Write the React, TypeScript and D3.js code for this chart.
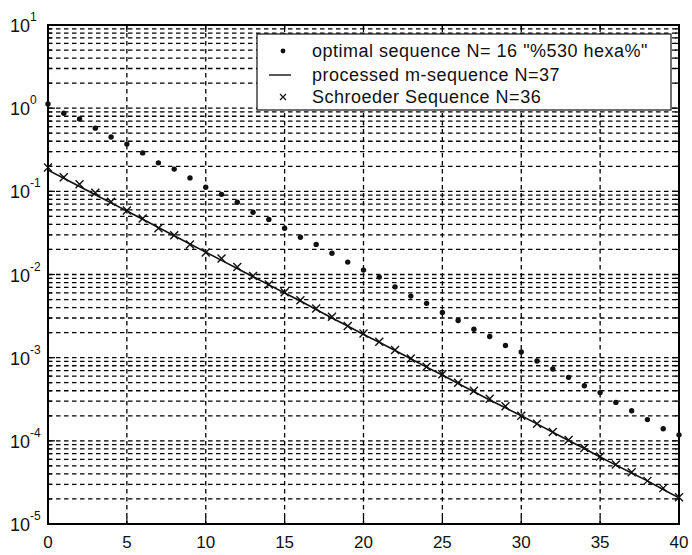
import { useEffect, useRef } from "react";
import * as d3 from "d3";

// x positions (sample index)
const xValues: number[] = d3.range(0, 41);

// optimal sequence N=16 "%530 hexa%" (dots)
const optimalValues: number[] = [
  1.12, 0.87, 0.74, 0.575, 0.45, 0.37, 0.29, 0.22, 0.185, 0.145,
  0.112, 0.092, 0.074, 0.056, 0.046, 0.036, 0.028, 0.023, 0.018, 0.0141,
  0.0113, 0.0093, 0.0071, 0.0055, 0.0045, 0.0035, 0.0028, 0.0022, 0.0018, 0.0014,
  0.00117, 0.00091, 0.00073, 0.00058, 0.00046, 0.00038, 0.00029, 0.00023, 0.00018, 0.00014,
  0.000118,
];

// processed m-sequence N=37 (solid line)
const mSeqValues: number[] = [
  0.18, 0.1435, 0.1143, 0.0911, 0.0726, 0.0579, 0.0461, 0.0368, 0.0293, 0.0233,
  0.0186, 0.0148, 0.0118, 0.0094, 0.0075, 0.006, 0.0048, 0.0038, 0.003, 0.0024,
  0.0019, 0.00153, 0.00122, 0.00097, 0.00077, 0.00062, 0.00049, 0.00039, 0.00031, 0.00025,
  0.0002, 0.00016, 0.000127, 0.000101, 0.000081, 0.000064, 0.000051, 0.000041, 0.000033, 0.000026,
  0.0000206,
];

// Schroeder sequence N=36 (x markers)
const schroederValues: number[] = [
  0.194, 0.148, 0.122, 0.096, 0.075, 0.059, 0.047, 0.036, 0.0296, 0.023,
  0.0184, 0.0156, 0.0123, 0.0096, 0.0076, 0.0061, 0.0049, 0.0039, 0.0031, 0.0024,
  0.00195, 0.00155, 0.00124, 0.00098, 0.00078, 0.00063, 0.0005, 0.0004, 0.00032, 0.00026,
  0.0002, 0.00016, 0.000128, 0.000102, 0.000082, 0.000065, 0.000052, 0.000042, 0.000033, 0.000027,
  0.000021,
];

const xTicks: number[] = [0, 5, 10, 15, 20, 25, 30, 35, 40];
const yExponents: number[] = [1, 0, -1, -2, -3, -4, -5];

const legendLabels: string[] = [
  'optimal sequence N= 16 "%530 hexa%"',
  "processed m-sequence N=37",
  "Schroeder Sequence N=36",
];

export default function App() {
  const svgRef = useRef<SVGSVGElement>(null);

  useEffect(() => {
    const svg = d3.select(svgRef.current);
    svg.selectAll("*").remove();

    const width = 692;
    const height = 555;
    const margin = { top: 25, right: 13, bottom: 31, left: 48 };
    const innerW = width - margin.left - margin.right;
    const innerH = height - margin.top - margin.bottom;
    const font = "'Liberation Sans', Arial, sans-serif";

    svg.attr("width", width).attr("height", height);
    svg.append("rect").attr("width", width).attr("height", height).attr("fill", "#fff");

    const g = svg.append("g").attr("transform", `translate(${margin.left},${margin.top})`);

    const x = d3.scaleLinear().domain([0, 40]).range([0, innerW]);
    const y = d3.scaleLog().domain([1e-5, 10]).range([innerH, 0]);

    // horizontal grid at every log tick
    const logTicks: number[] = [];
    for (let e = -5; e < 1; e++) {
      for (let m = 1; m <= 9; m++) logTicks.push(m * Math.pow(10, e));
    }
    logTicks.push(10);

    g.append("g")
      .selectAll("line")
      .data(logTicks.filter((v) => v > 1e-5 && v < 10))
      .join("line")
      .attr("x1", 0)
      .attr("x2", innerW)
      .attr("y1", (d) => y(d))
      .attr("y2", (d) => y(d))
      .attr("stroke", "#000")
      .attr("stroke-width", 1.3)
      .attr("stroke-dasharray", "4.5,3.5");

    g.append("g")
      .selectAll("line")
      .data(xTicks.filter((v) => v > 0 && v < 40))
      .join("line")
      .attr("x1", (d) => x(d))
      .attr("x2", (d) => x(d))
      .attr("y1", 0)
      .attr("y2", innerH)
      .attr("stroke", "#000")
      .attr("stroke-width", 1.3)
      .attr("stroke-dasharray", "4.5,3.5");

    // tick marks (inside, both sides)
    const ticks = g.append("g").attr("stroke", "#000").attr("stroke-width", 1.2);
    logTicks.forEach((v) => {
      const len = Math.abs(Math.log10(v) - Math.round(Math.log10(v))) < 1e-9 ? 7 : 4;
      ticks.append("line").attr("x1", 0).attr("x2", len).attr("y1", y(v)).attr("y2", y(v));
      ticks.append("line").attr("x1", innerW).attr("x2", innerW - len).attr("y1", y(v)).attr("y2", y(v));
    });
    xTicks.forEach((v) => {
      ticks.append("line").attr("x1", x(v)).attr("x2", x(v)).attr("y1", innerH).attr("y2", innerH - 7);
      ticks.append("line").attr("x1", x(v)).attr("x2", x(v)).attr("y1", 0).attr("y2", 7);
    });

    // box
    g.append("rect")
      .attr("width", innerW)
      .attr("height", innerH)
      .attr("fill", "none")
      .attr("stroke", "#000")
      .attr("stroke-width", 2);

    // x tick labels
    g.append("g")
      .selectAll("text")
      .data(xTicks)
      .join("text")
      .attr("x", (d) => x(d))
      .attr("y", innerH + 24)
      .attr("text-anchor", "middle")
      .attr("font-family", font)
      .attr("font-size", 17)
      .attr("fill", "#111")
      .text((d) => d);

    // y tick labels 10^n
    const yl = g
      .append("g")
      .selectAll("text")
      .data(yExponents)
      .join("text")
      .attr("x", -38)
      .attr("y", (d) => y(Math.pow(10, d)) + 7)
      .attr("font-family", font)
      .attr("font-size", 18)
      .attr("fill", "#111");
    yl.append("tspan").text("10");
    yl.append("tspan").attr("dy", -11).attr("font-size", 12).text((d) => d);

    // m-sequence line
    const line = d3
      .line<number>()
      .x((d, i) => x(xValues[i]))
      .y((d) => y(d));
    g.append("path")
      .datum(mSeqValues)
      .attr("fill", "none")
      .attr("stroke", "#111")
      .attr("stroke-width", 1.6)
      .attr("d", line);

    // optimal dots
    g.append("g")
      .selectAll("circle")
      .data(optimalValues)
      .join("circle")
      .attr("cx", (d, i) => x(xValues[i]))
      .attr("cy", (d) => y(d))
      .attr("r", 2.7)
      .attr("fill", "#111");

    // Schroeder x markers
    const s = 4;
    g.append("g")
      .selectAll("path")
      .data(schroederValues)
      .join("path")
      .attr("d", (d, i) => {
        const cx = x(xValues[i]);
        const cy = y(d);
        return `M${cx - s},${cy - s}L${cx + s},${cy + s}M${cx - s},${cy + s}L${cx + s},${cy - s}`;
      })
      .attr("stroke", "#111")
      .attr("stroke-width", 1.4)
      .attr("fill", "none");

    // legend
    const lg = svg.append("g").attr("transform", "translate(257,34)");
    lg.append("rect")
      .attr("width", 414)
      .attr("height", 76)
      .attr("fill", "#fff")
      .attr("stroke", "#111")
      .attr("stroke-width", 1.2);
    const rowY = [17, 41, 63];
    legendLabels.forEach((label, i) => {
      lg.append("text")
        .attr("x", 55)
        .attr("y", rowY[i] + 6)
        .attr("font-family", font)
        .attr("font-size", 18)
        .attr("letter-spacing", 0.5)
        .attr("fill", "#111")
        .text(label);
    });
    lg.append("circle").attr("cx", 26).attr("cy", rowY[0]).attr("r", 2.4).attr("fill", "#111");
    lg.append("line")
      .attr("x1", 12)
      .attr("x2", 34)
      .attr("y1", rowY[1])
      .attr("y2", rowY[1])
      .attr("stroke", "#111")
      .attr("stroke-width", 1.4);
    lg.append("path")
      .attr("d", `M23,${rowY[2] - 3}L29,${rowY[2] + 3}M23,${rowY[2] + 3}L29,${rowY[2] - 3}`)
      .attr("stroke", "#111")
      .attr("stroke-width", 1.2);
  }, []);

  return (
    <div style={{ position: "absolute", left: 0, top: 0 }}>
      <svg ref={svgRef} style={{ display: "block" }} />
    </div>
  );
}
